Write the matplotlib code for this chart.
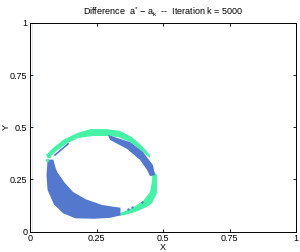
import numpy as np
import matplotlib
matplotlib.use('Agg')
import matplotlib.pyplot as plt

plt.rcParams['font.family'] = ['Liberation Sans', 'DejaVu Sans']
plt.rcParams['mathtext.fontset'] = 'custom'
plt.rcParams['mathtext.rm'] = 'Liberation Sans'
plt.rcParams['mathtext.it'] = 'Liberation Sans'

BLUE = '#5578cf'
GREEN = '#46f2a6'

# region outlines (data coords)
blue_crescent_x = [0.066, 0.088, 0.095, 0.102, 0.13, 0.162, 0.21, 0.271, 0.31, 0.34,
                   0.34, 0.30, 0.24, 0.17, 0.125, 0.09, 0.066, 0.062]
blue_crescent_y = [0.345, 0.345, 0.31, 0.286, 0.235, 0.19, 0.155, 0.128, 0.12, 0.115,
                   0.078, 0.066, 0.062, 0.064, 0.088, 0.13, 0.20, 0.27]

green_top_x = [0.060, 0.086, 0.124, 0.177, 0.226, 0.289, 0.338, 0.383, 0.421, 0.451,
               0.451, 0.414, 0.376, 0.331, 0.289, 0.233, 0.180, 0.135, 0.098, 0.068]
green_top_y = [0.367, 0.400, 0.439, 0.472, 0.491, 0.491, 0.482, 0.453, 0.410, 0.367,
               0.353, 0.391, 0.429, 0.453, 0.458, 0.458, 0.448, 0.420, 0.385, 0.350]

green_right_x = [0.459, 0.477, 0.477, 0.459, 0.440, 0.395, 0.357, 0.331,
                 0.338, 0.383, 0.425, 0.451, 0.459, 0.459]
green_right_y = [0.300, 0.271, 0.185, 0.137, 0.119, 0.094, 0.080, 0.075,
                 0.089, 0.113, 0.147, 0.190, 0.247, 0.295]

blue_band_x = [0.293, 0.376, 0.425, 0.462, 0.470, 0.451, 0.440, 0.414, 0.365, 0.301]
blue_band_y = [0.463, 0.429, 0.381, 0.319, 0.271, 0.266, 0.295, 0.343, 0.396, 0.439]

blue_line_x = [0.094, 0.143]
blue_line_y = [0.367, 0.420]

blue_dots_x = [0.368, 0.383, 0.421, 0.451]
blue_dots_y = [0.108, 0.117, 0.141, 0.285]
green_dots_x = [0.064, 0.072]
green_dots_y = [0.345, 0.362]

ticks = [0, 0.25, 0.5, 0.75, 1]
tick_labels = ['0', '0.25', '0.5', '0.75', '1']

fig = plt.figure(figsize=(3.0, 2.52), dpi=100)
ax = fig.add_axes([0.1, 0.0806, 0.887, 0.829])

ax.axvline(0.007, color='#e2eaf8', lw=0.8, zorder=1)
ax.fill(green_top_x, green_top_y, color=GREEN, lw=0, zorder=2)
ax.fill(green_right_x, green_right_y, color=GREEN, lw=0, zorder=2)
ax.fill(blue_band_x, blue_band_y, color=BLUE, lw=0, zorder=3)
ax.fill(blue_crescent_x, blue_crescent_y, color=BLUE, lw=0, zorder=3)
ax.plot(blue_line_x, blue_line_y, color=BLUE, lw=1.2, zorder=3)
ax.scatter(blue_dots_x, blue_dots_y, s=3, color=BLUE, lw=0, zorder=4)
ax.scatter(green_dots_x, green_dots_y, s=6, color=GREEN, lw=0, zorder=4)

ax.set_xlim(0, 1)
ax.set_ylim(0, 1)
ax.set_xticks(ticks)
ax.set_xticklabels(tick_labels)
ax.set_yticks(ticks)
ax.set_yticklabels(tick_labels)
ax.tick_params(direction='in', top=True, right=True, labelsize=6.5,
               length=2.5, width=0.6, pad=2)
for s in ax.spines.values():
    s.set_linewidth(0.7)

ax.set_xlabel('X', fontsize=6.5, labelpad=0)
ax.set_ylabel('Y', fontsize=6.5)
ax.yaxis.set_label_coords(-0.072, 0.5)
ax.set_title(r'Difference  $\mathrm{a}^{*}$ $-$ $\mathrm{a}_{\mathrm{k}}$  --  Iteration k = 5000',
             fontsize=6.5, pad=5)

fig.savefig('out.png', dpi=100)
